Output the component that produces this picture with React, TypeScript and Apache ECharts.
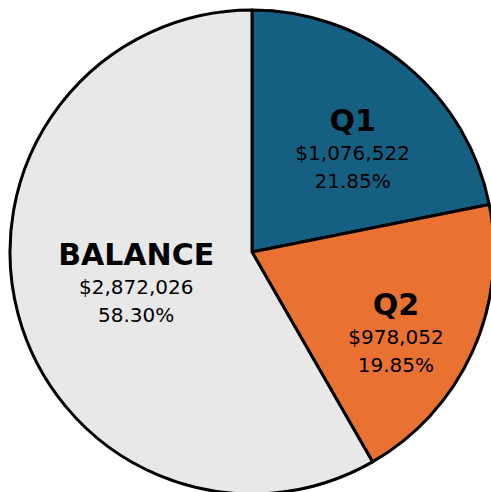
import React, { useEffect, useRef } from "react";
import * as echarts from "echarts";

const CATEGORIES = ["Q1", "Q2", "BALANCE"];
const VALUES = [1076522, 978052, 2872026];
const COLORS = ["#156082", "#E97132", "#E8E8E8"];
// label nudges (px) relative to the default inside position
const LABEL_OFFSETS = [
  [22, -8],
  [31, 29],
  [4, -1],
];

export default function App() {
  const ref = useRef<HTMLDivElement>(null);
  useEffect(() => {
    if (!ref.current) return;
    const chart = echarts.init(ref.current, null, { renderer: "svg" });
    const data = CATEGORIES.map((name, i) => ({
      name,
      value: VALUES[i],
      itemStyle: { color: COLORS[i] },
    }));
    chart.setOption({
      animation: false,
      backgroundColor: "#ffffff",
      series: [
        {
          type: "pie",
          center: [252, 252],
          radius: 242,
          startAngle: 90,
          clockwise: true,
          silent: true,
          data,
          itemStyle: { borderColor: "#000000", borderWidth: 3 },
          label: {
            show: true,
            position: "inside",
            fontFamily: "DejaVu Sans",
            color: "#000000",
            formatter: (p: any) =>
              `{n|${p.name}}\n{v|$${Number(p.value).toLocaleString("en-US")}}\n{v|${Number(p.percent).toFixed(2)}%}`,
            rich: {
              n: {
                fontFamily: "DejaVu Sans",
                fontSize: 30,
                fontWeight: "bold",
                lineHeight: 37,
                color: "#000000",
              },
              v: {
                fontFamily: "DejaVu Sans",
                fontSize: 20,
                lineHeight: 28,
                color: "#000000",
              },
            },
          },
          labelLine: { show: false },
          labelLayout: (params: any) => {
            const o = LABEL_OFFSETS[params.dataIndex] || [0, 0];
            return { dx: o[0], dy: o[1] };
          },
        },
      ],
    });
    return () => chart.dispose();
  }, []);
  return (
    <div
      ref={ref}
      style={{ position: "fixed", left: 0, top: 0, width: 491, height: 492 }}
    />
  );
}
